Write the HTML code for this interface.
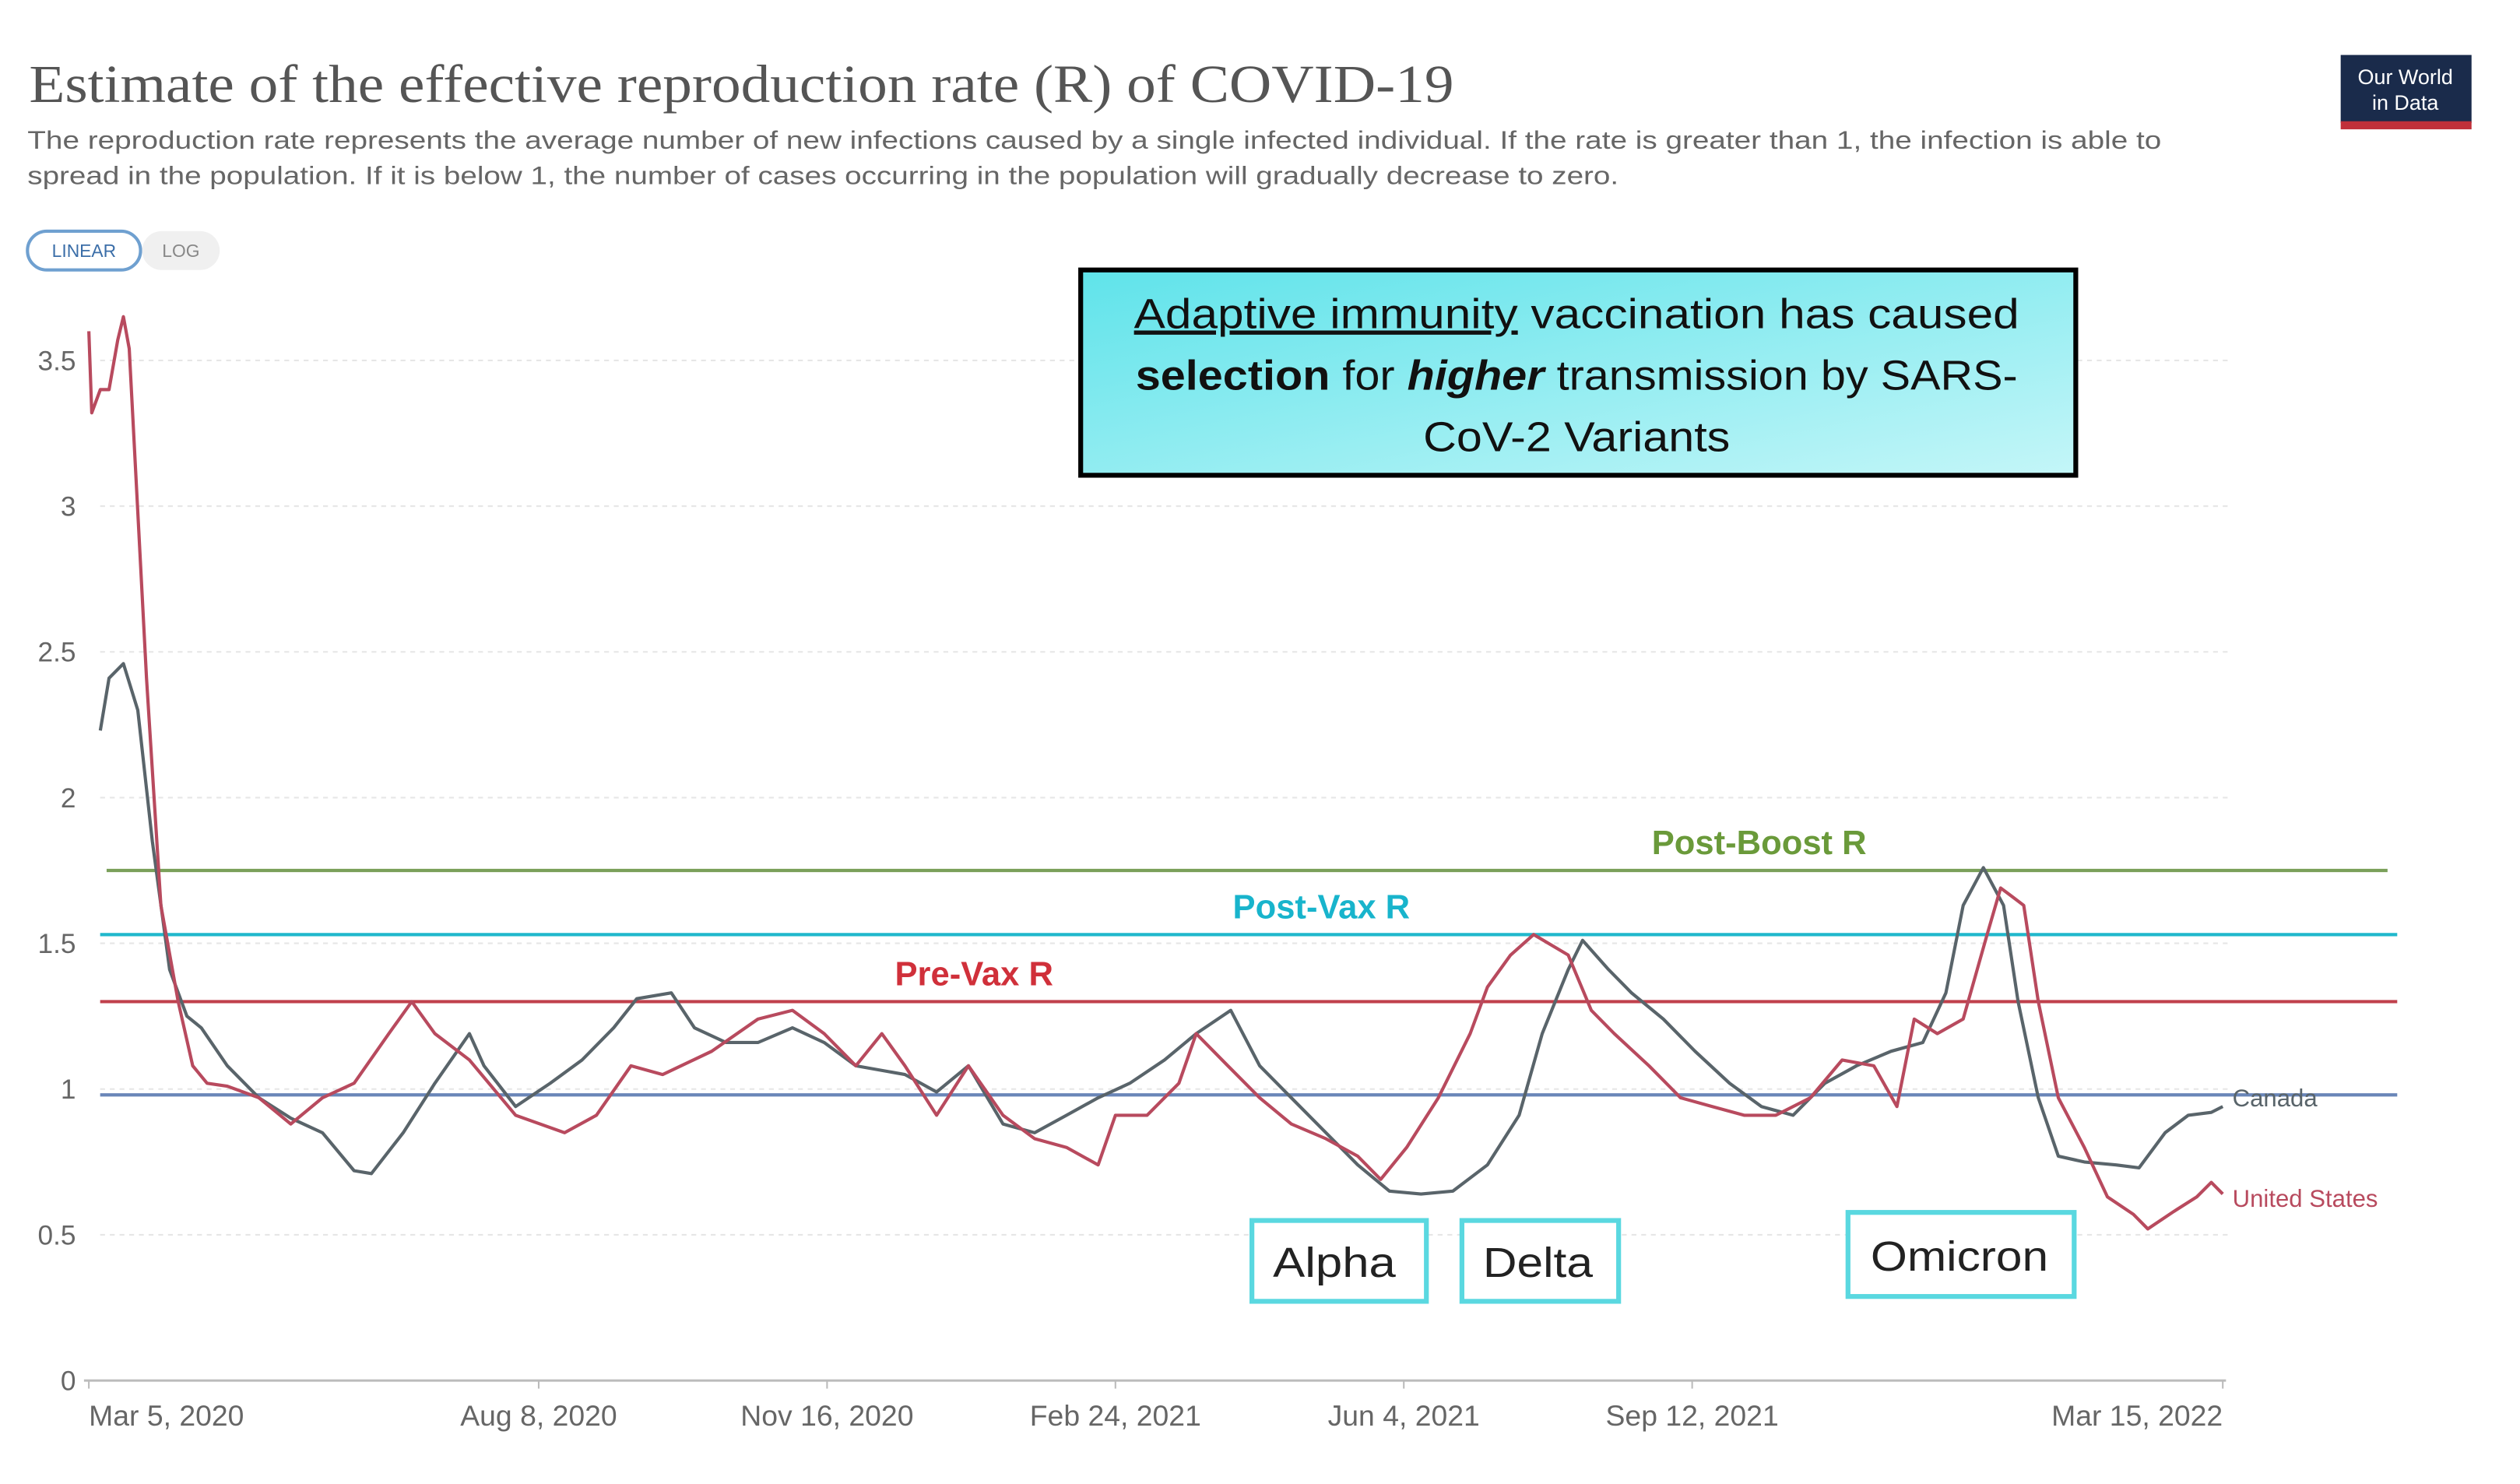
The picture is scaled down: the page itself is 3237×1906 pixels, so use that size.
<!DOCTYPE html>
<html><head><meta charset="utf-8"><style>
html,body{margin:0;padding:0;background:#fff;}
svg{display:block;}
</style></head><body>
<svg id="chart" width="3237" height="1906" viewBox="0 0 1560 918" preserveAspectRatio="none" xmlns="http://www.w3.org/2000/svg" font-family="Liberation Sans, sans-serif">
<rect width="1560" height="918" fill="#fff"/>
<text x="18" y="63" font-family="Liberation Serif, serif" font-size="33" fill="#555" textLength="882" lengthAdjust="spacingAndGlyphs">Estimate of the effective reproduction rate (R) of COVID-19</text>
<text x="17" y="92" font-size="15.5" fill="#666" textLength="1321" lengthAdjust="spacingAndGlyphs">The reproduction rate represents the average number of new infections caused by a single infected individual. If the rate is greater than 1, the infection is able to</text>
<text x="17" y="114" font-size="15.5" fill="#666" textLength="985" lengthAdjust="spacingAndGlyphs">spread in the population. If it is below 1, the number of cases occurring in the population will gradually decrease to zero.</text>
<g>
<rect x="1449" y="34" width="81" height="42" fill="#1a2b4b"/>
<rect x="1449" y="75" width="81" height="5" fill="#c0303a"/>
<text x="1489" y="52" font-size="13" fill="#fff" text-anchor="middle">Our World</text>
<text x="1489" y="68" font-size="13" fill="#fff" text-anchor="middle">in Data</text>
</g>
<g>
<rect x="17" y="143" width="70" height="24" rx="12" fill="#fff" stroke="#6fa0d0" stroke-width="2"/>
<text x="52" y="159" font-size="11" fill="#3b6ea8" text-anchor="middle">LINEAR</text>
</g>
<g>
<rect x="88" y="143" width="48" height="24" rx="12" fill="#f0f0f0"/>
<text x="112" y="159" font-size="11" fill="#888" text-anchor="middle">LOG</text>
</g>
<g id="grid"></g>
<g id="refs"></g>
<g id="series"></g>
<g>
<defs><linearGradient id="cy" x1="0" y1="0" x2="1" y2="1"><stop offset="0" stop-color="#5fe3ea"/><stop offset="1" stop-color="#c4f6f8"/></linearGradient></defs>
<rect x="669" y="167" width="616" height="127" fill="url(#cy)" stroke="#000" stroke-width="3"/>
<text x="976" y="203" font-size="26" text-anchor="middle" fill="#111" textLength="548" lengthAdjust="spacingAndGlyphs"><tspan text-decoration="underline">Adaptive immunity</tspan> vaccination has caused</text>
<text x="976" y="241" font-size="26" text-anchor="middle" fill="#111" textLength="546" lengthAdjust="spacingAndGlyphs"><tspan font-weight="bold">selection</tspan> for <tspan font-weight="bold" font-style="italic">higher</tspan> transmission by SARS-</text>
<text x="976" y="279" font-size="26" text-anchor="middle" fill="#111" textLength="190" lengthAdjust="spacingAndGlyphs">CoV-2 Variants</text>
</g>
<g><rect x="775" y="755" width="108" height="50" fill="#fff" stroke="#5ad8e0" stroke-width="3"/><text x="826" y="790" font-size="26" text-anchor="middle" fill="#222" textLength="76" lengthAdjust="spacingAndGlyphs">Alpha</text></g>
<g><rect x="905" y="755" width="97" height="50" fill="#fff" stroke="#5ad8e0" stroke-width="3"/><text x="952" y="790" font-size="26" text-anchor="middle" fill="#222" textLength="68" lengthAdjust="spacingAndGlyphs">Delta</text></g>
<g><rect x="1144" y="750" width="140" height="52" fill="#fff" stroke="#5ad8e0" stroke-width="3"/><text x="1213" y="786" font-size="26" text-anchor="middle" fill="#222" textLength="110" lengthAdjust="spacingAndGlyphs">Omicron</text></g>
</svg>
<script>
const yTicks = [0, 0.5, 1, 1.5, 2, 2.5, 3, 3.5];
const xTickLabels = ["Mar 5, 2020","Aug 8, 2020","Nov 16, 2020","Feb 24, 2021","Jun 4, 2021","Sep 12, 2021","Mar 15, 2022"];
const xTickDays = [0,156,256,356,456,556,740];
const refNames = ["Post-Boost R","Post-Vax R","Pre-Vax R","R = 1"];
const refValues = [1.75,1.53,1.3,0.98];
const usDays = [0,1,4,7,10,12,14,20,25,31,36,41,48,59,70,81,92,104,112,120,132,148,165,176,188,199,216,232,244,255,266,275,283,294,305,317,328,339,350,356,367,378,384,395,406,417,429,440,448,457,468,479,485,493,501,513,521,529,541,552,563,574,585,597,608,619,627,633,641,650,658,663,667,671,676,683,692,700,709,714,723,731,736,740];
const usValues = [3.60,3.32,3.40,3.40,3.57,3.65,3.54,2.41,1.63,1.30,1.08,1.02,1.01,0.97,0.88,0.97,1.02,1.19,1.30,1.19,1.10,0.91,0.85,0.91,1.08,1.05,1.13,1.24,1.27,1.19,1.08,1.19,1.08,0.91,1.08,0.91,0.83,0.80,0.74,0.91,0.91,1.02,1.19,1.08,0.97,0.88,0.83,0.77,0.69,0.80,0.97,1.19,1.35,1.46,1.53,1.46,1.27,1.19,1.08,0.97,0.94,0.91,0.91,0.97,1.10,1.08,0.94,1.24,1.19,1.24,1.52,1.69,1.66,1.63,1.30,0.97,0.80,0.63,0.57,0.52,0.58,0.63,0.68,0.64];
const caDays = [4,7,12,17,22,28,34,39,48,59,70,81,92,98,109,120,132,137,148,160,171,182,190,202,210,221,232,244,255,266,283,294,305,317,328,339,350,361,373,384,396,406,417,429,440,451,462,473,485,496,504,513,518,527,535,546,557,569,580,591,602,613,625,636,644,650,657,664,669,676,683,692,703,711,720,728,736,740];
const caValues = [2.23,2.41,2.46,2.30,1.85,1.41,1.25,1.21,1.08,0.97,0.90,0.85,0.72,0.71,0.85,1.02,1.19,1.08,0.94,1.02,1.10,1.21,1.31,1.33,1.21,1.16,1.16,1.21,1.16,1.08,1.05,0.99,1.08,0.88,0.85,0.91,0.97,1.02,1.10,1.19,1.27,1.08,0.97,0.85,0.74,0.65,0.64,0.65,0.74,0.91,1.19,1.41,1.51,1.41,1.33,1.24,1.13,1.02,0.94,0.91,1.02,1.08,1.13,1.16,1.33,1.63,1.76,1.63,1.30,0.97,0.77,0.75,0.74,0.73,0.85,0.91,0.92,0.94];

const NS = "http://www.w3.org/2000/svg";
const X0 = 55, X1 = 1376, D1 = 740, Y0 = 854, YPER = 180.3;
function xScale(d){ return X0 + (X1 - X0) * d / D1; }
function yScale(v){ return Y0 - v * YPER; }
function mk(tag, attrs, parent){ const e = document.createElementNS(NS, tag); for (const k in attrs) e.setAttribute(k, attrs[k]); parent.appendChild(e); return e; }

const grid = document.getElementById('grid');
yTicks.forEach(function(t){
  const y = yScale(t);
  if (t > 0) {
    const gl = mk('line', {x1: 62, x2: 1380, y1: y, y2: y, stroke: '#e6e6e6', 'stroke-dasharray': '3,3', 'stroke-width': 1}, grid);
    
    
  }
  const lb = mk('text', {x: 47, y: y + 6, 'text-anchor': 'end', 'font-size': 17, fill: '#666'}, grid);
  lb.textContent = String(t);
  
  
});
const ax = mk('line', {x1: 52, x2: 1378, y1: Y0, y2: Y0, stroke: '#bbb', 'stroke-width': 1.5}, grid);


xTickLabels.forEach(function(lbl, i){
  const x = xScale(xTickDays[i]);
  const tk = mk('line', {x1: x, x2: x, y1: Y0, y2: Y0 + 5, stroke: '#bbb'}, grid);
  
  
  const anchor = i === 0 ? 'start' : (i === xTickLabels.length - 1 ? 'end' : 'middle');
  const t = mk('text', {x: x, y: 882, 'text-anchor': anchor, 'font-size': 18, fill: '#666'}, grid);
  t.textContent = lbl;
  
  
});

const refs = document.getElementById('refs');
const refColors = ['#7aa05a', '#20b8cc', '#c0404c', '#6a86b8'];
const refX1 = [66, 62, 62, 62], refX2 = [1478, 1484, 1484, 1484];
const refLabelX = [1089, 818, 603, null];
const refLabelCol = ['#6a9a3a', '#18b4cc', '#d0303a', null];
refValues.forEach(function(v, i){
  const y = yScale(v);
  const l = mk('line', {x1: refX1[i], x2: refX2[i], y1: y, y2: y, stroke: refColors[i], 'stroke-width': 2}, refs);
  
  
  if (refLabelX[i] !== null) {
    const t = mk('text', {x: refLabelX[i], y: y - 10, 'text-anchor': 'middle', 'font-size': 21, 'font-weight': 'bold', fill: refLabelCol[i]}, refs);
    t.textContent = refNames[i];
    
    
  }
});

const series = document.getElementById('series');
function path(days, vals){ return days.map(function(d, i){ return (i ? 'L' : 'M') + xScale(d).toFixed(1) + ',' + yScale(vals[i]).toFixed(1); }).join(''); }
const ca = mk('path', {d: path(caDays, caValues), fill: 'none', stroke: '#59646a', 'stroke-width': 2, 'stroke-linejoin': 'round'}, series);


const us = mk('path', {d: path(usDays, usValues), fill: 'none', stroke: '#b84a5e', 'stroke-width': 2, 'stroke-linejoin': 'round'}, series);


const cl = mk('text', {x: 1382, y: yScale(caValues[caValues.length - 1]) + 0, 'font-size': 15, fill: '#59646a'}, series);
cl.textContent = 'Canada';


const ul = mk('text', {x: 1382, y: yScale(usValues[usValues.length - 1]) + 8, 'font-size': 15, fill: '#b84a5e'}, series);
ul.textContent = 'United States';


</script>
</body></html>
